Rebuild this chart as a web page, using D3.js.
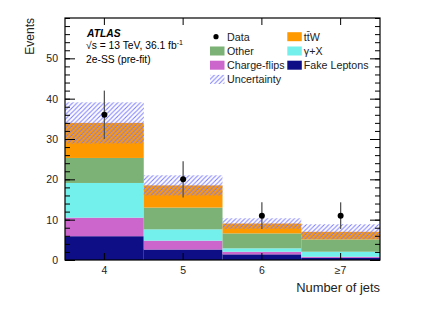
<!DOCTYPE html>
<html>
<head>
<meta charset="utf-8">
<script src="https://cdn.jsdelivr.net/npm/d3@7"></script>
<style>
  body { margin: 0; background: #fff; }
  text { font-family: "Liberation Sans", Arial, sans-serif; }
</style>
</head>
<body>
<div class="graphContainer"></div>
<script>
// size of the page and the plot frame
const w = 432;
const h = 310;
const pLeft = 65, pRight = 380, pTop = 18, pBottom = 260;

// chart values
const categories = ["4", "5", "6", "\u22657"];
const fake = [5.9, 2.6, 1.4, 0.5];
const chargeFlips = [4.6, 2.2, 0.65, 0.3];
const gammaX = [8.6, 2.8, 0.85, 1.25];
const other = [6.2, 5.4, 3.7, 3.05];
const ttW = [8.7, 5.5, 2.45, 1.9];
const uncertainty = [5.1, 2.5, 1.3, 1.85];
const dataVals = [36, 20, 11, 11];
const dataErr = [6.0, 4.5, 3.3, 3.3];

const yTicks = [0, 10, 20, 30, 40, 50];

// stack order, bottom first
const layers = [
  {name: "Fake Leptons", vals: fake, color: "#0e0e87"},
  {name: "Charge-flips", vals: chargeFlips, color: "#cc66cc"},
  {name: "\u03b3+X", vals: gammaX, color: "#74f0ec"},
  {name: "Other", vals: other, color: "#7cb275"},
  {name: "tt\u0304W", vals: ttW, color: "#ff9900"}
];

const svg = d3.select(".graphContainer").append("svg")
  .attr("width", w)
  .attr("height", h);

// hatch for the uncertainty band
const defs = svg.append("defs");
const hatch = defs.append("pattern")
  .attr("id", "hatch")
  .attr("patternUnits", "userSpaceOnUse")
  .attr("width", 4.5)
  .attr("height", 4.5);
hatch.append("line")
  .attr("x1", 0).attr("y1", 4.5).attr("x2", 4.5).attr("y2", 0)
  .style("stroke", "#7a7aff").style("stroke-width", "1px");
hatch.append("line")
  .attr("x1", -1).attr("y1", 1).attr("x2", 1).attr("y2", -1)
  .style("stroke", "#7a7aff").style("stroke-width", "1px");
hatch.append("line")
  .attr("x1", 3.5).attr("y1", 5.5).attr("x2", 5.5).attr("y2", 3.5)
  .style("stroke", "#7a7aff").style("stroke-width", "1px");

const xScale = d3.scaleBand()
  .domain(categories)
  .range([pLeft, pRight])
  .paddingInner(0)
  .paddingOuter(0);

const yScale = d3.scaleLinear()
  .domain([0, 60])
  .range([pBottom, pTop]);

// build stacked rows
const rows = categories.map((c, i) => {
  const r = {cat: c};
  layers.forEach(l => r[l.name] = l.vals[i]);
  return r;
});
const stack = d3.stack().keys(layers.map(l => l.name))(rows);

svg.append("g").selectAll("g")
  .data(stack)
  .enter()
  .append("g")
  .attr("fill", (d, i) => layers[i].color)
  .selectAll("rect")
  .data(d => d)
  .enter()
  .append("rect")
  .attr("x", d => xScale(d.data.cat))
  .attr("y", d => yScale(d[1]))
  .attr("width", xScale.bandwidth())
  .attr("height", d => yScale(d[0]) - yScale(d[1]));

// uncertainty band around the total
const totals = categories.map((c, i) => d3.sum(layers, l => l.vals[i]));
svg.append("g").selectAll("rect")
  .data(categories)
  .enter()
  .append("rect")
  .attr("x", d => xScale(d))
  .attr("y", (d, i) => yScale(totals[i] + uncertainty[i]))
  .attr("width", xScale.bandwidth())
  .attr("height", (d, i) => yScale(totals[i] - uncertainty[i]) - yScale(totals[i] + uncertainty[i]))
  .style("fill", "url(#hatch)");

// data points with error bars
const pts = svg.append("g");
pts.selectAll("line")
  .data(categories)
  .enter()
  .append("line")
  .attr("x1", d => xScale(d) + xScale.bandwidth() / 2)
  .attr("x2", d => xScale(d) + xScale.bandwidth() / 2)
  .attr("y1", (d, i) => yScale(dataVals[i] + dataErr[i]))
  .attr("y2", (d, i) => yScale(dataVals[i] - dataErr[i]))
  .attr("stroke", "#555")
  .attr("stroke-width", 1.3);
pts.selectAll("circle")
  .data(categories)
  .enter()
  .append("circle")
  .attr("cx", d => xScale(d) + xScale.bandwidth() / 2)
  .attr("cy", (d, i) => yScale(dataVals[i]))
  .attr("r", 3)
  .attr("fill", "#000");

// axes, ticks drawn inward
const minorTicks = d3.range(0, 61, 2);

svg.append("g")
  .attr("transform", "translate(0," + pBottom + ")")
  .call(d3.axisBottom(xScale).tickSizeInner(-7).tickSizeOuter(0).tickPadding(7))
  .call(g => g.select(".domain").remove())
  .call(g => g.selectAll("text").attr("font-size", "10.5px").attr("fill", "#222")
    .attr("font-family", "Liberation Sans, Arial, sans-serif"));

svg.append("g")
  .attr("transform", "translate(0," + pTop + ")")
  .call(d3.axisTop(xScale).tickSizeInner(-7).tickSizeOuter(0).tickFormat(""))
  .call(g => g.select(".domain").remove());

svg.append("g")
  .attr("transform", "translate(" + pLeft + ",0)")
  .call(d3.axisLeft(yScale).tickValues(yTicks).tickSizeInner(-10).tickSizeOuter(0).tickPadding(7))
  .call(g => g.select(".domain").remove())
  .call(g => g.selectAll("text").attr("font-size", "10.5px").attr("fill", "#222")
    .attr("font-family", "Liberation Sans, Arial, sans-serif"));

svg.append("g")
  .attr("transform", "translate(" + pLeft + ",0)")
  .call(d3.axisLeft(yScale).tickValues(minorTicks).tickSizeInner(-5).tickSizeOuter(0).tickFormat(""))
  .call(g => g.select(".domain").remove());

svg.append("g")
  .attr("transform", "translate(" + pRight + ",0)")
  .call(d3.axisRight(yScale).tickValues(yTicks).tickSizeInner(-10).tickSizeOuter(0).tickFormat(""))
  .call(g => g.select(".domain").remove());

svg.append("g")
  .attr("transform", "translate(" + pRight + ",0)")
  .call(d3.axisRight(yScale).tickValues(minorTicks).tickSizeInner(-5).tickSizeOuter(0).tickFormat(""))
  .call(g => g.select(".domain").remove());

svg.selectAll(".tick line").attr("stroke", "#000").attr("stroke-width", 1);

// frame
svg.append("rect")
  .attr("x", pLeft)
  .attr("y", pTop)
  .attr("width", pRight - pLeft)
  .attr("height", pBottom - pTop)
  .attr("fill", "none")
  .attr("stroke", "#000")
  .attr("stroke-width", 1.2);

// axis titles
svg.append("text")
  .attr("transform", "translate(34," + pTop + ") rotate(-90)")
  .attr("text-anchor", "end")
  .attr("font-size", "12px")
  .attr("fill", "#222")
  .text("Events");

svg.append("text")
  .attr("x", pRight)
  .attr("y", 292)
  .attr("text-anchor", "end")
  .attr("font-size", "12.9px")
  .attr("fill", "#222")
  .text("Number of jets");

// ATLAS label
svg.append("text")
  .attr("x", 87)
  .attr("y", 37)
  .attr("font-size", "10.3px")
  .attr("font-weight", "bold")
  .attr("font-style", "italic")
  .text("ATLAS");

const lumi = svg.append("text")
  .attr("x", 86)
  .attr("y", 48.5)
  .attr("font-size", "10.3px");
lumi.append("tspan").text("\u221as = 13 TeV, 36.1 fb");
lumi.append("tspan").attr("dy", -4).attr("font-size", "7px").text("-1");

svg.append("text")
  .attr("x", 86)
  .attr("y", 63)
  .attr("font-size", "10.3px")
  .text("2e-SS (pre-fit)");

// legend
const legendItems = [
  {name: "Data", type: "point", col: 0, row: 0},
  {name: "tt\u0304W", type: "box", color: "#ff9900", col: 1, row: 0},
  {name: "Other", type: "box", color: "#7cb275", col: 0, row: 1},
  {name: "\u03b3+X", type: "box", color: "#74f0ec", col: 1, row: 1},
  {name: "Charge-flips", type: "box", color: "#cc66cc", col: 0, row: 2},
  {name: "Fake Leptons", type: "box", color: "#0e0e87", col: 1, row: 2},
  {name: "Uncertainty", type: "hatch", col: 0, row: 3}
];
const colX = [210, 287.3];
const rowY = [36.7, 51, 65.2, 79.4];

const leg = svg.append("g").selectAll("g")
  .data(legendItems)
  .enter()
  .append("g")
  .attr("transform", d => "translate(" + colX[d.col] + "," + rowY[d.row] + ")");

leg.filter(d => d.type === "point").append("circle")
  .attr("cx", 6).attr("cy", 0).attr("r", 2.6).attr("fill", "#000");
leg.filter(d => d.type === "box").append("rect")
  .attr("x", 0).attr("y", -4.5).attr("width", 14.5).attr("height", 9)
  .attr("fill", d => d.color);
leg.filter(d => d.type === "hatch").append("rect")
  .attr("x", 0).attr("y", -4.5).attr("width", 14.5).attr("height", 9)
  .style("fill", "url(#hatch)");
leg.append("text")
  .attr("x", d => d.col === 0 ? 17 : 16.5)
  .attr("y", 3.8)
  .attr("font-size", "10.7px")
  .attr("fill", "#222")
  .text(d => d.name);
</script>
</body>
</html>
